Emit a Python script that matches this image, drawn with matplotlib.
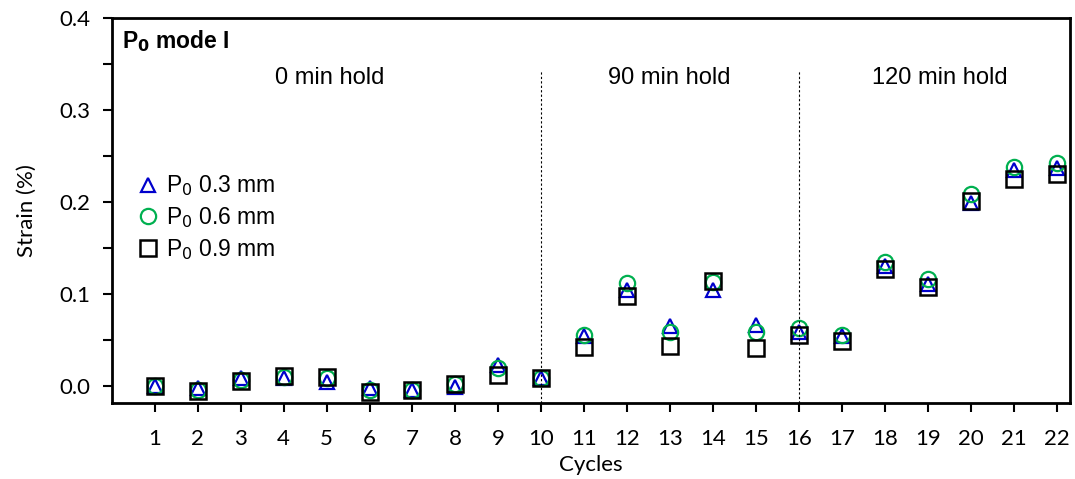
import matplotlib.pyplot as plt
from matplotlib.ticker import MultipleLocator
import numpy as np

cycles = list(range(1, 23))
strain_03 = [0.000, -0.002, 0.008, 0.008, 0.004, -0.002, -0.004, -0.001, 0.023, 0.008,
             0.054, 0.104, 0.065, 0.104, 0.066, 0.059, 0.054, 0.130, 0.111, 0.199, 0.235, 0.237]
strain_06 = [0.000, -0.004, 0.006, 0.010, 0.008, -0.004, -0.004, 0.002, 0.019, 0.008,
             0.055, 0.112, 0.059, 0.113, 0.059, 0.063, 0.055, 0.135, 0.116, 0.209, 0.238, 0.242]
strain_09 = [0.000, -0.006, 0.005, 0.011, 0.010, -0.007, -0.005, 0.002, 0.012, 0.008,
             0.042, 0.098, 0.043, 0.114, 0.041, 0.055, 0.049, 0.127, 0.108, 0.201, 0.225, 0.231]
hold_breaks = [10, 16]
hold_labels = ["0 min hold", "90 min hold", "120 min hold"]
hold_label_x = [5.07, 12.99, 19.27]

fig = plt.figure(figsize=(10.75, 4.79), dpi=100)
ax = fig.add_axes([0.104, 0.159, 0.891, 0.803])

tick_font = 'Lato'
ann_font = 'Liberation Sans'

ax.plot(cycles, strain_03, ls='none', marker='^', ms=10, mfc='none', mec='#0000cc', mew=1.6,
        label='P$_0$ 0.3 mm')
ax.plot(cycles, strain_06, ls='none', marker='o', ms=11, mfc='none', mec='#00b050', mew=1.6,
        label='P$_0$ 0.6 mm')
ax.plot(cycles, strain_09, ls='none', marker='s', ms=11.5, mfc='none', mec='black', mew=1.8,
        label='P$_0$ 0.9 mm')

ax.set_xlim(0, 22.3)
ax.set_ylim(-0.0185, 0.4)
ax.vlines(hold_breaks, -0.0185, 0.343, colors='black', linestyles=(0, (2, 2)), lw=0.8)

for lab, xx in zip(hold_labels, hold_label_x):
    ax.text(xx, 0.335, lab, ha='center', va='center', fontsize=17, family=ann_font)
ax.text(0.011, 0.94, 'P$_\\mathbf{0}$ mode I', transform=ax.transAxes, ha='left', va='center',
        fontsize=16.5, fontweight='bold', family=ann_font)

ax.set_xticks(cycles)
ax.yaxis.set_major_locator(MultipleLocator(0.1))
ax.yaxis.set_minor_locator(MultipleLocator(0.05))
ax.set_yticklabels([f'{v:.1f}' for v in ax.get_yticks()])
ax.tick_params(which='both', direction='out', length=6.5, width=1.5)
ax.tick_params(axis='y', pad=9)
ax.tick_params(axis='x', pad=12)
for lbl in ax.get_xticklabels() + ax.get_yticklabels():
    lbl.set_family(tick_font)
    lbl.set_fontsize(16)
for s in ax.spines.values():
    s.set_linewidth(2)

ax.set_xlabel('Cycles', family=tick_font, fontsize=16, labelpad=5)
ax.set_ylabel('Strain (%)', family=tick_font, fontsize=16, labelpad=16)

leg = ax.legend(loc='upper left', bbox_to_anchor=(0.015, 0.62), frameon=False,
                prop={'family': ann_font, 'size': 16.5}, handletextpad=0.25,
                handlelength=1.1, labelspacing=0.3, borderaxespad=0)

fig.savefig('out.png', dpi=100)
